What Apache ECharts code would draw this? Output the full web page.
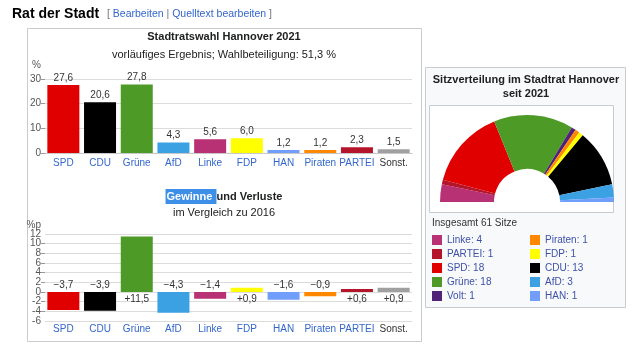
<!DOCTYPE html>
<html>
<head>
<meta charset="utf-8">
<script src="https://cdn.jsdelivr.net/npm/echarts@6/dist/echarts.min.js"></script>
<style>
  html, body { margin: 0; padding: 0; background: #fff; }
  #chart { width: 639px; height: 352px; }
</style>
</head>
<body>
<div id="chart"></div>
<script>
// Stadtratswahl Hannover 2021
const parteien = ['SPD', 'CDU', 'Grüne', 'AfD', 'Linke', 'FDP', 'HAN', 'Piraten', 'PARTEI', 'Sonst.']
const ergebnis = [27.6, 20.6, 27.8, 4.3, 5.6, 6.0, 1.2, 1.2, 2.3, 1.5]
const differenz = [-3.7, -3.9, 11.5, -4.3, -1.4, 0.9, -1.6, -0.9, 0.6, 0.9]
const ergebnisTicks = [0, 30, 10]
const differenzTicks = [-6, 12, 2]

// Sitzverteilung (von links nach rechts)
const sitzParteien = ['Linke', 'PARTEI', 'SPD', 'Grüne', 'Volt', 'Piraten', 'FDP', 'CDU', 'AfD', 'HAN']
const sitze = [4, 1, 18, 18, 1, 1, 1, 13, 3, 1]

const farbe = {
    SPD: '#e00000',
    CDU: '#000000',
    'Grüne': '#4e9a26',
    AfD: '#3ba1e3',
    Linke: '#b83174',
    FDP: '#ffff00',
    HAN: '#719efa',
    Piraten: '#ff8800',
    PARTEI: '#b5152b',
    'Sonst.': '#a0a0a0',
    Volt: '#502379',
}

const font = "'Liberation Sans', Arial, sans-serif"
const linkColor = '#3366cc'
const komma = v => Math.abs(v).toFixed(1).replace('.', ',')
const gesamt = sitze.reduce((a, b) => a + b, 0)

const kategorieAchse = (gridIndex, margin) => ({
    type: 'category',
    gridIndex: gridIndex,
    data: parteien,
    axisTick: { show: false },
    axisLine: { show: gridIndex === 0, onZero: false, lineStyle: { color: '#c8c8c8' } },
    axisLabel: {
        interval: 0,
        hideOverlap: false,
        margin: margin,
        fontFamily: font,
        fontSize: 10,
        color: v => (v === 'Sonst.' ? '#333' : linkColor),
    },
})

const achsenLabel = { margin: 4, fontFamily: font, fontSize: 10, color: '#555' }

const werteAchse = (gridIndex, ticks, name, nameGap, randLabels) => ({
    type: 'value',
    gridIndex: gridIndex,
    position: 'left',
    min: ticks[0],
    max: ticks[1],
    interval: ticks[2],
    name: name,
    nameLocation: 'end',
    nameGap: nameGap,
    nameMoveOverlap: false,
    nameTextStyle: { fontFamily: font, fontSize: 10, color: '#555', align: 'right', padding: [0, 4, 0, 0] },
    axisLine: { show: false },
    axisTick: { show: true, length: 4, lineStyle: { color: '#999' } },
    axisLabel: Object.assign({ showMinLabel: randLabels, showMaxLabel: randLabels }, achsenLabel),
    splitLine: { lineStyle: { color: '#dcdcdc', width: 1 } },
})

// nur min/max beschriften (sonst blendet ECharts die Nachbarn aus)
const randAchse = (gridIndex, ticks) => ({
    type: 'value',
    gridIndex: gridIndex,
    position: 'left',
    offset: 0,
    min: ticks[0],
    max: ticks[1],
    interval: ticks[1] - ticks[0],
    axisLine: { show: false },
    axisTick: { show: false },
    splitLine: { show: false },
    axisLabel: achsenLabel,
})

const legende = (namen, left) => ({
    data: namen,
    orient: 'vertical',
    left: left,
    top: 235,
    padding: 0,
    icon: 'rect',
    itemWidth: 10,
    itemHeight: 10,
    itemGap: 4,
    selectedMode: false,
    formatter: name => name + ': ' + sitze[sitzParteien.indexOf(name)],
    textStyle: { fontFamily: font, fontSize: 10, color: '#3d51a8' },
})

var myChart = echarts.init(document.getElementById('chart'), null, { renderer: 'canvas' })

var option = {
    animation: false,
    textStyle: { fontFamily: font },
    graphic: {
        elements: [
            {
                type: 'rect',
                z: 0,
                shape: { x: 27.5, y: 28.5, width: 394, height: 313 },
                style: { fill: '#fff', stroke: '#c8ccd1', lineWidth: 1 },
            },
            {
                type: 'rect',
                z: 0,
                shape: { x: 425.5, y: 67.5, width: 200, height: 240 },
                style: { fill: '#f8f9fa', stroke: '#c8ccd1', lineWidth: 1 },
            },
            {
                type: 'rect',
                z: 0,
                shape: { x: 429.5, y: 105.5, width: 184, height: 107 },
                style: { fill: '#fff', stroke: '#c8ccd1', lineWidth: 1 },
            },
        ],
    },
    title: [
        {
            text: 'Rat der Stadt',
            left: 12,
            top: 7,
            padding: 0,
            textStyle: { fontFamily: font, fontSize: 14, fontWeight: 'bold', color: '#000' },
        },
        {
            text: '{g|[ }{b|Bearbeiten}{g| | }{b|Quelltext bearbeiten}{g| ]}',
            left: 107,
            top: 9,
            padding: 0,
            textStyle: {
                fontFamily: font,
                fontSize: 10.5,
                fontWeight: 'normal',
                rich: {
                    g: { fontFamily: font, fontSize: 10.5, fontWeight: 'normal', color: '#72777d' },
                    b: { fontFamily: font, fontSize: 10.5, fontWeight: 'normal', color: linkColor },
                },
            },
        },
        {
            text: 'Stadtratswahl Hannover 2021',
            left: 224,
            top: 31,
            textAlign: 'center',
            padding: 0,
            textStyle: { fontFamily: font, fontSize: 11, fontWeight: 'bold', color: '#202122' },
        },
        {
            text: 'vorläufiges Ergebnis; Wahlbeteiligung: 51,3 %',
            left: 224,
            top: 49,
            textAlign: 'center',
            padding: 0,
            textStyle: { fontFamily: font, fontSize: 11, fontWeight: 'normal', color: '#202122' },
        },
        {
            text: '{h|Gewinne }und Verluste',
            left: 224,
            top: 189,
            textAlign: 'center',
            padding: 0,
            textStyle: {
                fontFamily: font,
                fontSize: 11,
                fontWeight: 'bold',
                color: '#202122',
                rich: {
                    h: {
                        fontFamily: font,
                        fontSize: 11,
                        fontWeight: 'bold',
                        color: '#fff',
                        backgroundColor: '#3d8fe8',
                        padding: [2, 1, 2, 1],
                    },
                },
            },
        },
        {
            text: 'im Vergleich zu 2016',
            left: 224,
            top: 207,
            textAlign: 'center',
            padding: 0,
            textStyle: { fontFamily: font, fontSize: 11, fontWeight: 'normal', color: '#202122' },
        },
        {
            text: 'Sitzverteilung im Stadtrat Hannover\nseit 2021',
            left: 526,
            top: 73,
            textAlign: 'center',
            padding: 0,
            textStyle: { fontFamily: font, fontSize: 11, fontWeight: 'bold', color: '#202122', lineHeight: 14 },
        },
        {
            text: 'Insgesamt ' + gesamt + ' Sitze',
            left: 432,
            top: 218,
            padding: 0,
            textStyle: { fontFamily: font, fontSize: 10, fontWeight: 'normal', color: '#333' },
        },
    ],
    legend: [legende(sitzParteien.slice(0, 5), 432), legende(sitzParteien.slice(5), 530)],
    grid: [
        { left: 45, right: 227, top: 79, bottom: 199 },
        { left: 45, right: 227, top: 234, bottom: 31 },
    ],
    xAxis: [kategorieAchse(0, 5), kategorieAchse(1, 3)],
    yAxis: [
        werteAchse(0, ergebnisTicks, '%', 9, true),
        werteAchse(1, differenzTicks, '%p', 4, false),
        randAchse(1, differenzTicks),
    ],
    series: [
        {
            name: 'Ergebnis',
            type: 'bar',
            xAxisIndex: 0,
            yAxisIndex: 0,
            barWidth: 32,
            silent: true,
            label: {
                show: true,
                position: 'top',
                distance: 2,
                fontFamily: font,
                fontSize: 10,
                color: '#333',
                formatter: p => komma(p.value),
            },
            data: ergebnis.map((v, i) => ({ value: v, itemStyle: { color: farbe[parteien[i]] } })),
        },
        {
            name: 'Differenz',
            type: 'bar',
            xAxisIndex: 1,
            yAxisIndex: 1,
            barWidth: 32,
            silent: true,
            label: {
                show: true,
                distance: 2,
                fontFamily: font,
                fontSize: 10,
                color: '#333',
                formatter: p => (p.value > 0 ? '+' : '\u2212') + komma(p.value),
            },
            data: differenz.map((v, i) => ({
                value: v,
                itemStyle: { color: farbe[parteien[i]] },
                // Verluste oberhalb, Gewinne unterhalb der Nulllinie beschriften
                label: { position: v < 0 ? 'top' : 'bottom' },
            })),
        },
        {
            name: 'Sitze',
            type: 'pie',
            center: [527, 202],
            radius: [33, 87],
            startAngle: 180,
            endAngle: 0,
            clockwise: true,
            silent: true,
            label: { show: false },
            labelLine: { show: false },
            emphasis: { disabled: true },
            itemStyle: { borderWidth: 0 },
            data: sitzParteien.map((n, i) => ({ name: n, value: sitze[i], itemStyle: { color: farbe[n] } })),
        },
    ],
}

myChart.setOption(option)
window.addEventListener('resize', function() {
    myChart.resize()
})
</script>
</body>
</html>
